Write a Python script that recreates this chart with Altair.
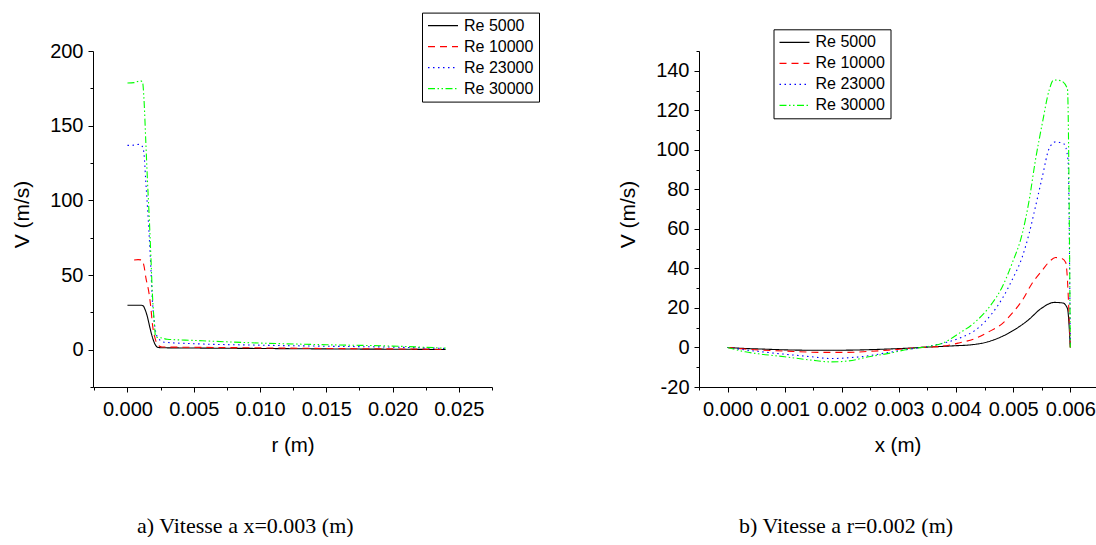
import altair as alt
import pandas as pd

series = ["Re 5000", "Re 10000", "Re 23000", "Re 30000"]
colors = ["#000000", "#FF0000", "#0000FF", "#00FF00"]
dashes = [[1, 0], [7, 5], [1.5, 3.5], [7, 2.5, 1.5, 2.5, 1.5, 2.5]]

# ---------- panel a) V(r) at x = 0.003 m ----------
a_r_5000 = [0, 0.0005, 0.00105, 0.0012, 0.0013, 0.00151, 0.0017, 0.00188, 0.00205, 0.00226, 0.0025, 0.005, 0.010, 0.015, 0.020, 0.024]
a_v_5000 = [29.7, 29.7, 29.7, 29.2, 27.5, 21.8, 14.5, 8.4, 4.2, 1.7, 1.3, 1.1, 0.8, 0.5, 0.3, 0.1]

a_r_10000 = [0.0005, 0.0008, 0.0011, 0.00125, 0.00138, 0.00163, 0.00176, 0.00188, 0.00213, 0.00231, 0.0026, 0.005, 0.010, 0.015, 0.020, 0.024]
a_v_10000 = [60.0, 60.3, 60.0, 56.0, 48.6, 37.5, 28.5, 17.4, 6.2, 2.9, 1.8, 1.6, 1.2, 0.8, 0.5, 0.2]

a_r_23000 = [0, 0.0005, 0.0009, 0.00113, 0.00125, 0.00138, 0.00151, 0.00163, 0.00176, 0.00188, 0.00201, 0.00226, 0.00276, 0.005, 0.010, 0.015, 0.020, 0.024]
a_v_23000 = [136.8, 137.0, 137.5, 136.0, 131.0, 113.0, 95.5, 77.7, 55.3, 33.0, 19.6, 8.4, 5.0, 4.0, 3.0, 2.3, 1.7, 0.8]

a_r_30000 = [0, 0.0005, 0.00095, 0.00113, 0.00125, 0.00138, 0.00151, 0.00163, 0.00176, 0.00188, 0.00201, 0.00213, 0.0025, 0.003, 0.005, 0.010, 0.015, 0.020, 0.024]
a_v_30000 = [178.6, 178.8, 180.0, 179.5, 167.0, 140.0, 113.0, 91.0, 64.0, 37.5, 19.6, 8.4, 8.0, 7.0, 6.2, 4.4, 3.3, 2.4, 1.0]

# ---------- panel b) V(x) at r = 0.002 m ----------
b_x_5000 = [0, 0.0003, 0.0006, 0.001, 0.0015, 0.0019, 0.0025, 0.0028, 0.0032, 0.0035, 0.00374, 0.004, 0.00421, 0.00456, 0.00491, 0.00526, 0.00549, 0.00572, 0.00587, 0.00595, 0.006]
b_v_5000 = [0, -0.5, -0.8, -1.2, -1.4, -1.4, -1.1, -0.8, -0.3, 0.2, 0.5, 0.9, 1.2, 2.9, 7.1, 13.8, 19.7, 22.8, 22.5, 19.7, 0]

b_x_10000 = [0, 0.0003, 0.0006, 0.001, 0.00147, 0.00182, 0.0021, 0.00247, 0.00282, 0.00317, 0.0035, 0.00375, 0.00405, 0.00434, 0.00457, 0.00481, 0.00498, 0.00516, 0.00533, 0.00551, 0.00563, 0.00574, 0.00585, 0.00592, 0.006]
b_v_10000 = [0, -0.8, -1.35, -1.8, -2.4, -2.5, -2.5, -2.0, -1.35, -0.5, 0.2, 0.6, 2.3, 4.6, 7.9, 12.1, 17.2, 23.9, 32.4, 39.1, 43.3, 45.5, 45.0, 43.0, 0]

b_x_23000 = [0, 0.0003, 0.0006, 0.001, 0.00147, 0.00182, 0.00212, 0.00247, 0.00282, 0.00317, 0.0035, 0.00375, 0.00405, 0.00434, 0.00463, 0.00481, 0.00498, 0.00516, 0.00528, 0.00539, 0.00551, 0.00563, 0.00574, 0.00589, 0.00596, 0.006]
b_v_23000 = [0, -1.2, -2.2, -3.4, -4.7, -5.6, -5.2, -4.2, -2.5, -0.9, 0.5, 2.0, 4.6, 8.8, 17.2, 24.8, 34.1, 45.9, 57.7, 71.2, 86.3, 100.7, 104.0, 103.0, 95.0, 0]

b_x_30000 = [0, 0.00031, 0.0006, 0.001, 0.00147, 0.00182, 0.00212, 0.00247, 0.00282, 0.00317, 0.0035, 0.00375, 0.00405, 0.00434, 0.00463, 0.00481, 0.00498, 0.00516, 0.00528, 0.00539, 0.00551, 0.00563, 0.00571, 0.00583, 0.00595, 0.006]
b_v_30000 = [0, -2.2, -3.4, -4.7, -6.4, -7.3, -6.8, -4.7, -3.0, -0.9, 0.5, 2.0, 7.1, 13.0, 22.3, 30.7, 42.5, 57.7, 74.5, 94.8, 113.4, 130.2, 135.3, 135.0, 131.0, 0]

# axis tick values (major + minor)
a_x_ticks = [round(-0.0025 + 0.0025 * i, 4) for i in range(13)]
a_y_ticks = [-25, 0, 25, 50, 75, 100, 125, 150, 175, 200]
b_x_ticks = [round(-0.0005 + 0.0005 * i, 4) for i in range(14)]
b_y_ticks = [-20, -10, 0, 10, 20, 30, 40, 50, 60, 70, 80, 90, 100, 110, 120, 130, 140, 150]

captions = ["a) Vitesse a x=0.003 (m)", "b) Vitesse a r=0.002 (m)"]


def frame(xs, vs):
    rows = []
    for name, xl, vl in zip(series, xs, vs):
        for i, (x, v) in enumerate(zip(xl, vl)):
            rows.append({"x": x, "v": v, "series": name, "k": i})
    return pd.DataFrame(rows)


df_a = frame([a_r_5000, a_r_10000, a_r_23000, a_r_30000], [a_v_5000, a_v_10000, a_v_23000, a_v_30000])
df_b = frame([b_x_5000, b_x_10000, b_x_23000, b_x_30000], [b_v_5000, b_v_10000, b_v_23000, b_v_30000])

FONT = "Liberation Sans"


def panel(df, xdom, xticks, xmod, xtitle, ydom, yticks, ymod, width, lx, ly, caption, cdx):
    legend = alt.Legend(
        title=None, orient="none", legendX=lx, legendY=ly,
        symbolType="stroke", symbolSize=900, symbolStrokeWidth=1.2,
        clipHeight=16, rowPadding=5, padding=5, labelOffset=5,
        labelFont=FONT, labelFontSize=16, labelColor="black",
        strokeColor="black", fillColor="white",
    )
    xaxis = alt.Axis(
        values=xticks, title=xtitle, grid=False,
        labelExpr=f"abs(round(datum.value*10000)) % {xmod} == 0 ? format(datum.value, '.3f') : ''",
        tickSize={"condition": {"test": f"abs(round(datum.value*10000)) % {xmod} != 0", "value": 3}, "value": 5},
        labelFont=FONT, labelFontSize=20, titleFont=FONT, titleFontSize=20.5,
        labelOverlap=False, labelFlush=False, labelPadding=7, titlePadding=16,
    )
    yaxis = alt.Axis(
        values=yticks, title="V (m/s)", grid=False,
        labelExpr=f"datum.value % {ymod} == 0 ? '' + datum.value : ''",
        tickSize={"condition": {"test": f"datum.value % {ymod} != 0", "value": 3}, "value": 5},
        labelFont=FONT, labelFontSize=20, titleFont=FONT, titleFontSize=21,
        labelOverlap=False, labelFlush=False, labelPadding=5, titlePadding=17, titleY=163,
    )
    return alt.Chart(df).mark_line(strokeWidth=1.1, interpolate="monotone").encode(
        x=alt.X("x:Q", scale=alt.Scale(domain=xdom, nice=False, zero=False), axis=xaxis),
        y=alt.Y("v:Q", scale=alt.Scale(domain=ydom, nice=False, zero=False), axis=yaxis),
        color=alt.Color("series:N", scale=alt.Scale(domain=series, range=colors), legend=legend),
        strokeDash=alt.StrokeDash("series:N", scale=alt.Scale(domain=series, range=dashes), legend=legend),
        order="k:Q",
    ).properties(
        width=width, height=336,
        title=alt.TitleParams(caption, orient="bottom", anchor="start", frame="group", dx=cdx, offset=60,
                              font="Liberation Serif", fontSize=22, fontWeight="normal", color="black"),
    )


left = panel(df_a, [-0.0026, 0.0275], a_x_ticks, 50, "r (m)", [-25, 200], a_y_ticks, 50, 399, 329, -38.4, captions[0], 44)
right = panel(df_b, [-0.0005, 0.00645], b_x_ticks, 10, "x (m)", [-20, 150], b_y_ticks, 20, 397, 74.5, -21.7, captions[1], 40)

chart = alt.hconcat(left, right, spacing=77).resolve_scale(
    color="independent", strokeDash="independent"
).properties(
    padding={"left": 11, "top": 12, "right": 0, "bottom": 0}
).configure_view(stroke=None).configure_axis(
    labelFont=FONT, labelFontSize=20, labelColor="black",
    titleFont=FONT, titleFontSize=20, titleFontWeight="normal", titleColor="black",
    domainColor="black", tickColor="black", domainWidth=1, tickWidth=1,
)

chart.save("out.html", embed_options={"renderer": "svg", "actions": False})
